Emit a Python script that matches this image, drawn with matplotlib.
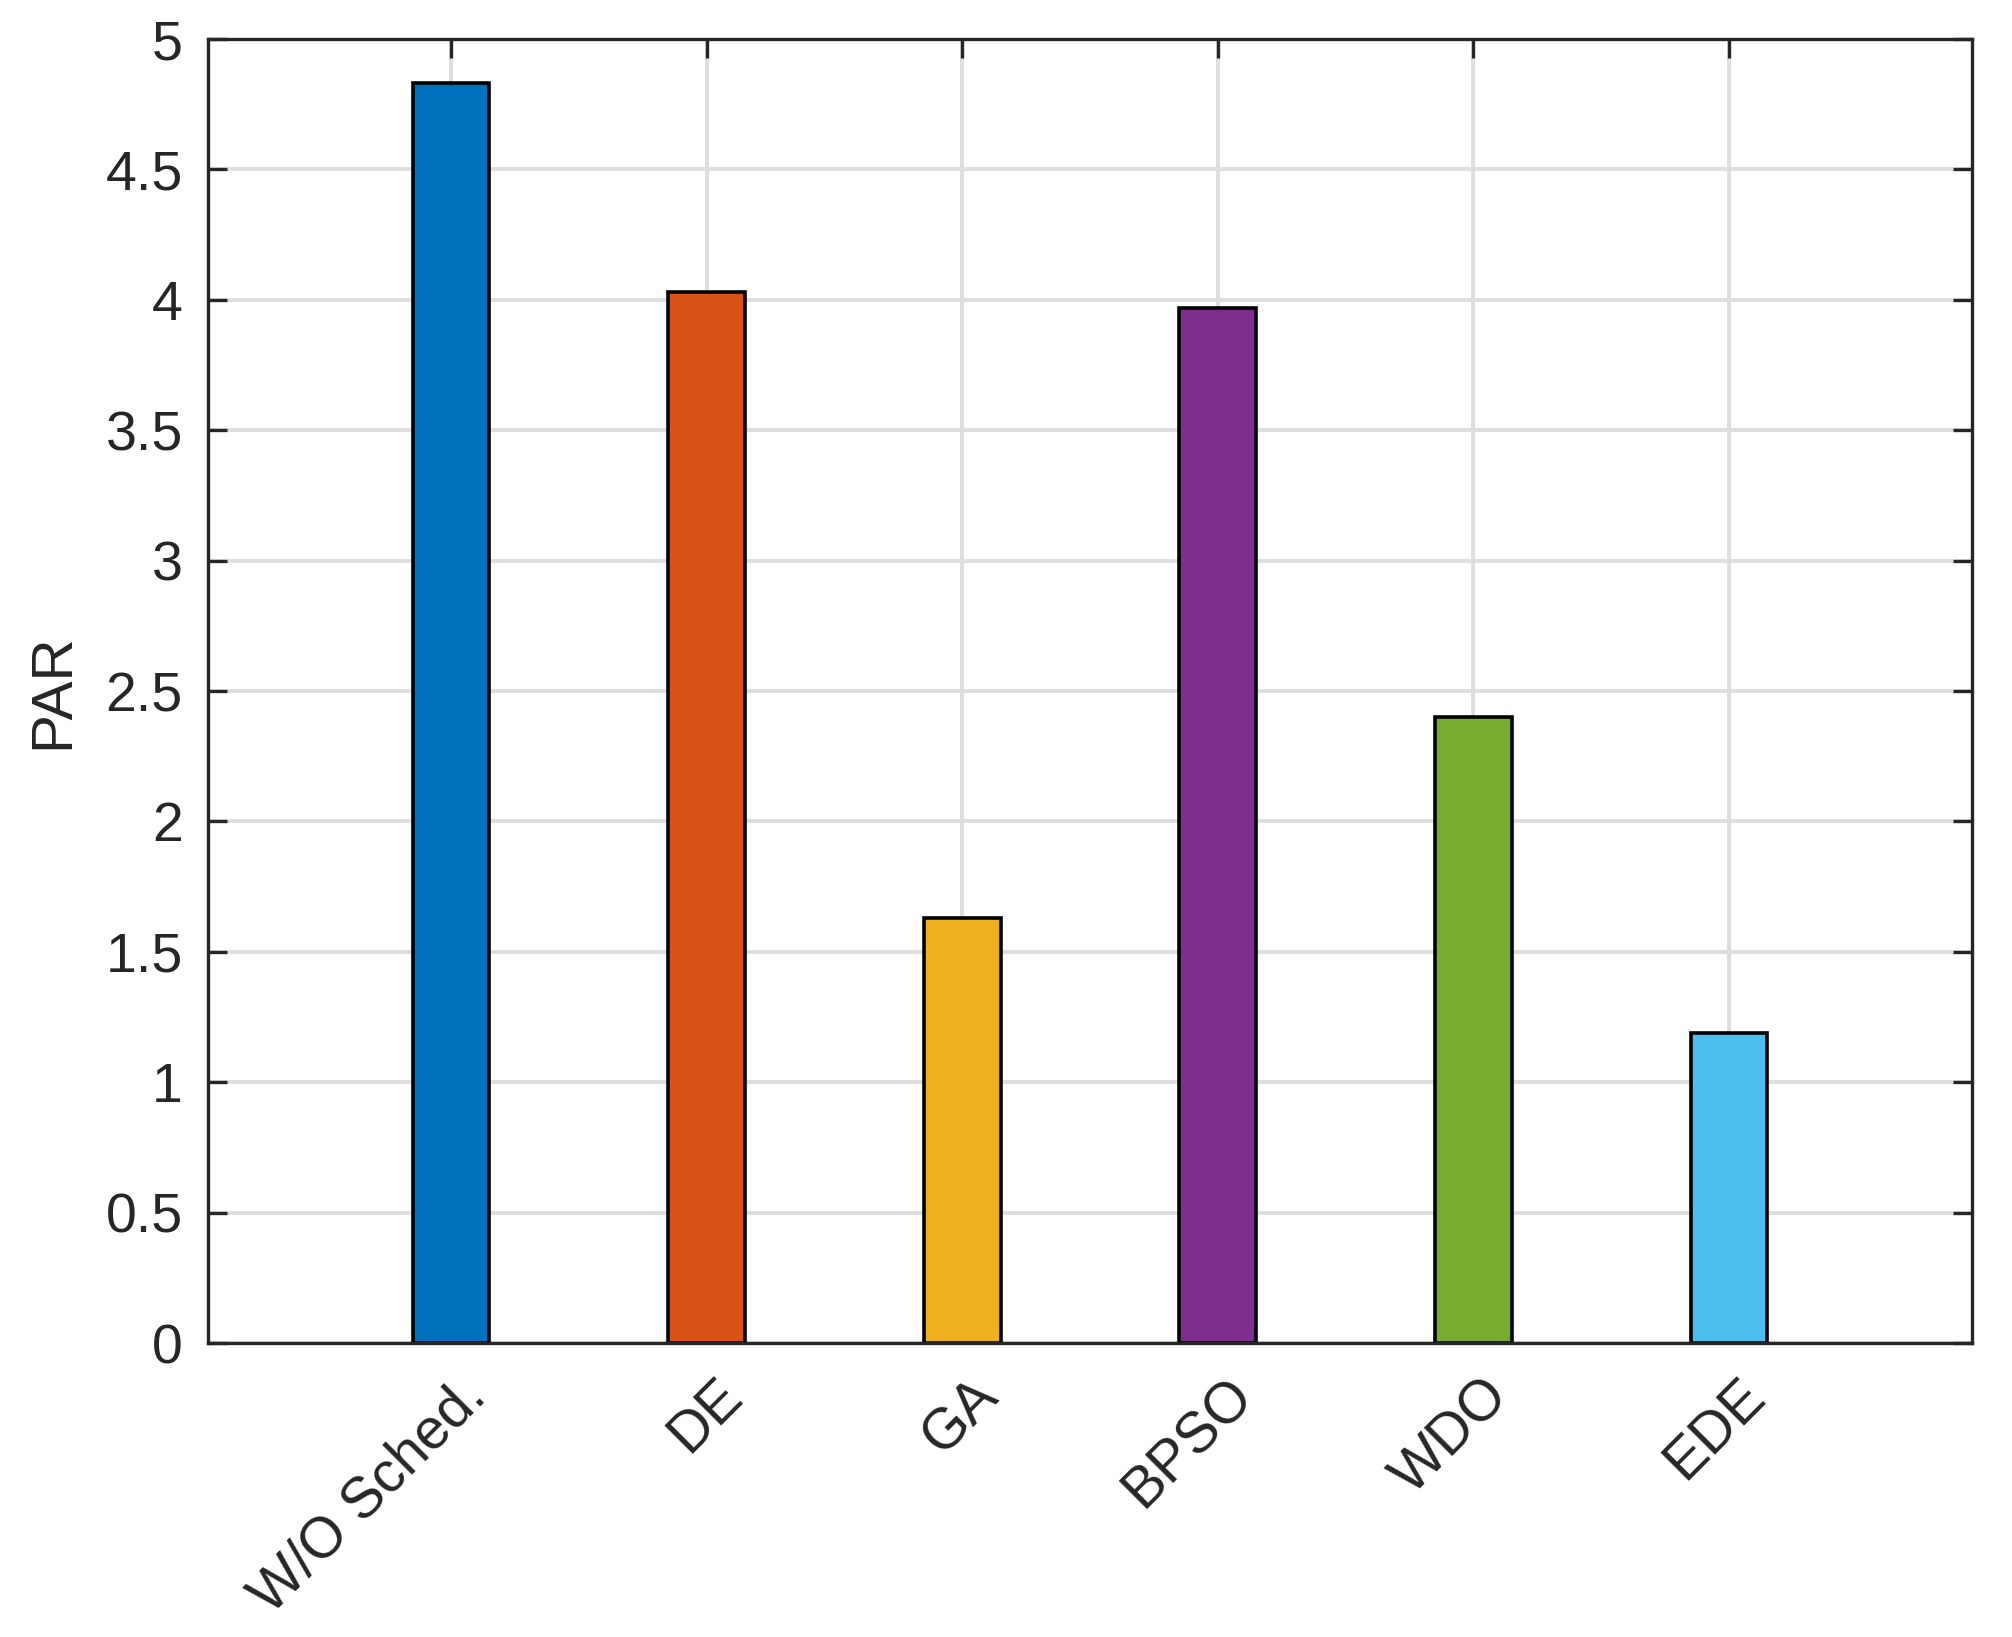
import numpy as np
import matplotlib
matplotlib.use('Agg')
import matplotlib.pyplot as plt
import matplotlib.transforms as mtransforms

# Data
methods = ['W/O Sched.', 'DE', 'GA', 'BPSO', 'WDO', 'EDE']
par_values = [4.83, 4.03, 1.63, 3.97, 2.40, 1.19]
bar_colors = ['#0072BD', '#D95319', '#EDB120', '#7E2F8E', '#77AC30', '#4DBEEE']
y_ticks = [0, 0.5, 1, 1.5, 2, 2.5, 3, 3.5, 4, 4.5, 5]

plt.rcParams['font.family'] = ['Liberation Sans', 'DejaVu Sans']
text_color = '#262626'
DPI = 200

fig = plt.figure(figsize=(2012 / DPI, 1637 / DPI), dpi=DPI)
ax = fig.add_axes([208 / 2012, 1 - 1343 / 1637, (1972 - 208) / 2012, (1343 - 39) / 1637])

x = np.arange(1, len(methods) + 1)
ax.bar(x, par_values, width=0.3, color=bar_colors, edgecolor='black',
       linewidth=1.3, zorder=3)

ax.set_xlim(0.05, 6.95)
ax.set_ylim(0, 5)
ax.set_xticks(x)
ax.set_xticklabels(methods, rotation=45, ha='right', va='center',
                   rotation_mode='anchor', color=text_color, fontsize=20.5)
ax.set_yticks(y_ticks)
ax.set_yticklabels([f'{v:g}' for v in y_ticks], color=text_color, fontsize=20)
ax.tick_params(direction='in', length=7, width=1.2, color=text_color,
               top=True, right=True)
ax.tick_params(axis='x', pad=16)
ax.tick_params(axis='y', pad=9)

# shift rotated labels slightly right of their ticks
shift = mtransforms.ScaledTranslation(27 / DPI, 0, fig.dpi_scale_trans)
for lbl in ax.get_xticklabels():
    lbl.set_transform(lbl.get_transform() + shift)

ax.set_ylabel('PAR', fontsize=21, color=text_color, labelpad=9)

ax.grid(True, color='#dedede', linewidth=1.4, zorder=0)
ax.set_axisbelow(True)
for spine in ax.spines.values():
    spine.set_linewidth(1.2)
    spine.set_color(text_color)
    spine.set_zorder(4)

plt.savefig('out.png', dpi=DPI)
